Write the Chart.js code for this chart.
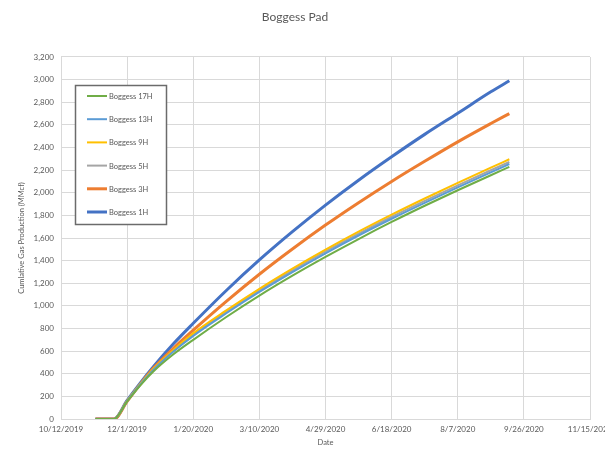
<!DOCTYPE html>
<html>
<head>
<meta charset="utf-8">
<script src="https://cdn.jsdelivr.net/npm/chart.js@4.4.1/dist/chart.umd.min.js"></script>
<style>
  html, body { margin: 0; padding: 0; background: #ffffff; }
  canvas { display: block; }
</style>
</head>
<body>
<canvas id="chart" width="605" height="449"></canvas>
<script>
// Production dates (M/D/YYYY) and cumulative gas per well, MMcf
const dates = ['11/7/2019','11/21/2019','12/1/2019','12/11/2019','12/21/2019','1/5/2020','1/20/2020',
               '2/14/2020','3/10/2020','4/4/2020','4/29/2020','5/24/2020','6/18/2020','7/13/2020',
               '8/7/2020','9/1/2020','9/15/2020'];
const boggess17H = [0, 0, 155, 298, 422, 572, 700, 902, 1091, 1267, 1433, 1591, 1742, 1885, 2022, 2155, 2228];
const boggess13H = [0, 0, 158, 305, 436, 596, 735, 935, 1123, 1299, 1465, 1622, 1770, 1911, 2047, 2180, 2254];
const boggess9H  = [0, 0, 160, 310, 445, 610, 757, 960, 1151, 1329, 1497, 1656, 1806, 1949, 2087, 2222, 2296];
const boggess5H  = [0, 0, 160, 308, 440, 602, 745, 947, 1137, 1314, 1481, 1639, 1788, 1929, 2066, 2199, 2272];
const boggess3H  = [0, 0, 155, 308, 450, 625, 785, 1040, 1280, 1503, 1714, 1912, 2100, 2278, 2450, 2612, 2700];
const boggess1H  = [0, 0, 165, 320, 465, 665, 846, 1136, 1406, 1656, 1891, 2111, 2318, 2516, 2703, 2892, 2990];

const wellNames = ['Boggess 17H', 'Boggess 13H', 'Boggess 9H', 'Boggess 5H', 'Boggess 3H', 'Boggess 1H'];
const xTickLabels = ['10/12/2019','12/1/2019','1/20/2020','3/10/2020','4/29/2020','6/18/2020','8/7/2020','9/26/2020','11/15/2020'];

const axisStart = '10/12/2019';
function dayNumber(s) {
  const [m, d, y] = s.split('/').map(Number);
  return Date.UTC(y, m - 1, d) / 86400000;
}
const startDay = dayNumber(axisStart);
const xDays = dates.map(s => dayNumber(s) - startDay);
const toPoints = vals => vals.map((v, i) => ({ x: xDays[i], y: v }));

const seriesValues = [boggess17H, boggess13H, boggess9H, boggess5H, boggess3H, boggess1H];
const colors = ['#70AD47', '#5B9BD5', '#FFC000', '#A5A5A5', '#ED7D31', '#4472C4'];
const widths = [2, 2, 2, 2, 3, 3];

const FONT = 'Lato, "Open Sans", sans-serif';
const TEXT = '#595959';
const GRID = '#D9D9D9';

// Boxed legend drawn inside the plot area, upper left
const boxedLegend = {
  id: 'boxedLegend',
  afterDatasetsDraw(chart) {
    const ctx = chart.ctx;
    const bx = 75.5, by = 85.5, bw = 91, bh = 139;
    ctx.save();
    ctx.fillStyle = '#ffffff';
    ctx.fillRect(bx, by, bw, bh);
    ctx.strokeStyle = '#6b6b6b';
    ctx.lineWidth = 1.5;
    ctx.strokeRect(bx, by, bw, bh);
    ctx.font = '7.5px ' + FONT;
    ctx.textBaseline = 'middle';
    ctx.textAlign = 'left';
    chart.data.datasets.forEach((ds, i) => {
      const y = 96 + i * 23.2;
      ctx.strokeStyle = ds.borderColor;
      ctx.lineWidth = ds.borderWidth;
      ctx.beginPath();
      ctx.moveTo(87, y);
      ctx.lineTo(107, y);
      ctx.stroke();
      ctx.fillStyle = TEXT;
      ctx.fillText(ds.label, 109, y + 0.5);
    });
    ctx.restore();
  }
};

new Chart(document.getElementById('chart'), {
  type: 'line',
  data: {
    datasets: wellNames.map((name, i) => ({
      label: name,
      data: toPoints(seriesValues[i]),
      borderColor: colors[i],
      backgroundColor: colors[i],
      borderWidth: widths[i],
      pointRadius: 0,
      cubicInterpolationMode: 'monotone',
      fill: false
    }))
  },
  options: {
    responsive: false,
    animation: false,
    layout: { padding: { left: 0, right: 15, top: 0, bottom: 0 } },
    plugins: {
      legend: { display: false },
      tooltip: { enabled: false },
      title: {
        display: true,
        text: 'Boggess Pad',
        color: TEXT,
        font: { family: FONT, size: 12, weight: 'normal' },
        padding: { top: 9.8, bottom: 32.8 }
      }
    },
    scales: {
      x: {
        type: 'linear',
        min: 0,
        max: 400,
        ticks: {
          stepSize: 50,
          autoSkip: false,
          maxRotation: 0,
          padding: 6,
          color: TEXT,
          font: { family: FONT, size: 8 },
          callback: (v, i) => xTickLabels[i]
        },
        grid: { color: GRID, drawTicks: false },
        border: { color: GRID },
        title: {
          display: true,
          text: 'Date',
          color: TEXT,
          font: { family: FONT, size: 7.5 },
          padding: { top: 0, bottom: 1.5 }
        },
        afterFit(scale) {
          scale.height = 30;
          scale.paddingLeft = 0;
          scale.paddingRight = 0;
        }
      },
      y: {
        min: 0,
        max: 3200,
        ticks: {
          stepSize: 200,
          padding: 7,
          color: TEXT,
          font: { family: FONT, size: 8 },
          callback: v => v.toLocaleString('en-US')
        },
        grid: { color: GRID, drawTicks: false },
        border: { color: GRID },
        title: {
          display: true,
          text: 'Cumlative Gas Production (MMcf)',
          color: TEXT,
          font: { family: FONT, size: 7.5 },
          padding: { top: 17.5, bottom: 0 }
        },
        afterFit(scale) {
          scale.width = 61;
        }
      }
    }
  },
  plugins: [boxedLegend]
});
</script>
</body>
</html>
